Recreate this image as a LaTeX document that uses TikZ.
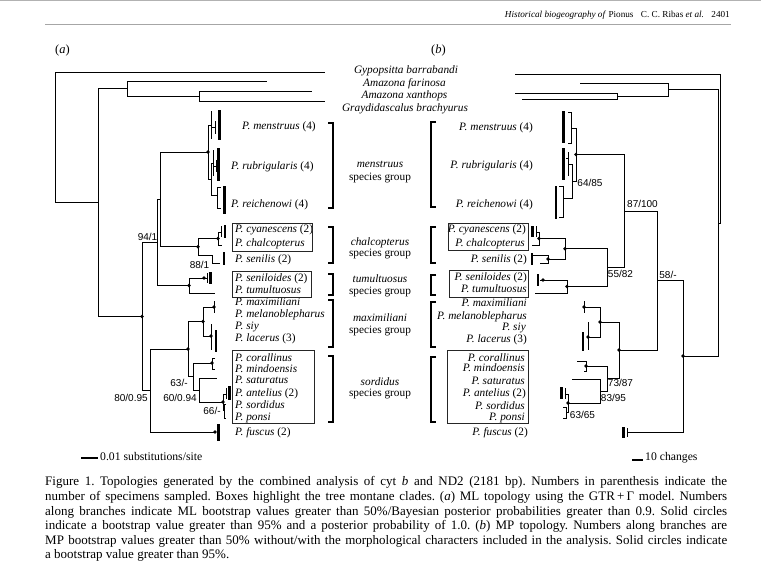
\documentclass[tikz,border=0pt]{standalone}
\usepackage{fontspec}
\setmainfont{Liberation Serif}
\newfontfamily\bootfont{Liberation Sans}
\frenchspacing

\begin{document}
\begin{tikzpicture}[yscale=-1, x=1pt, y=1pt,
    branch/.style={line width=0.85pt},
    thickbar/.style={line width=2.3pt},
    bracket/.style={line width=1.9pt},
    clade/.style={draw=black!85, line width=0.8pt},
    taxon/.style={inner sep=0pt, text height=7.5pt, text depth=0.5pt, font=\fontsize{11.3}{12}\selectfont},
    boot/.style={inner sep=0pt, font=\bootfont\fontsize{10}{10}\selectfont},
    scalebar/.style={line width=2pt},
  ]
    \useasboundingbox (0,0) rectangle (761,566);
    \fill [white] (0,0) rectangle (761,566);

    \draw [gray!60, line width=0.8pt] (0,0.5) -- (761,0.5);
    \draw [gray!70, line width=0.9pt] (45,24) -- (731,24);
    \node [anchor=base east, inner sep=0pt, font=\fontsize{9.2}{9}\selectfont] (head) at (730,17) {\textit{Historical biogeography of} Pionus\hspace{0.8em}C. C. Ribas \textit{et al.}\hspace{0.8em}2401};

    \node [font=\fontsize{12.5}{13}\selectfont] (panel-a) at (62.5,50) {(\textit{a})};
    \node [font=\fontsize{12.5}{13}\selectfont] (panel-b) at (438.5,50) {(\textit{b})};

    \node [taxon] (l-gyp) at (406,70) {\textit{Gypopsitta barrabandi}};
    \node [taxon] (l-far) at (404.5,82.5) {\textit{Amazona farinosa}};
    \node [taxon] (l-xan) at (404.5,95) {\textit{Amazona xanthops}};
    \node [taxon] (l-gra) at (405,107.5) {\textit{Graydidascalus brachyurus}};

    % (a) ML tree
    \coordinate (a-root) at (55,137.25);
    \coordinate (a-gyp) at (325,72);
    \coordinate (a-base) at (98,202.5);
    \coordinate (a-amz) at (127,88.5);
    \coordinate (a-far) at (267,81);
    \coordinate (a-xg) at (199,96);
    \coordinate (a-xan) at (312,91);
    \coordinate (a-gra) at (325,101);
    \coordinate (a-pio) at (142,316.5);
    \coordinate (a-n94) at (157,242.4);
    \coordinate (a-mc) at (160,199.4);
    \coordinate (a-men) at (208,152);
    \coordinate (a-men-t) at (211,125);
    \coordinate (a-rr) at (211,179);
    \coordinate (a-rub-t) at (213,163);
    \coordinate (a-rei-t) at (217,195);
    \coordinate (a-chal) at (198,246.75);
    \coordinate (a-cc) at (218,238.5);
    \coordinate (a-cya-t) at (221,232);
    \coordinate (a-chl-t) at (222,245);
    \coordinate (a-sen-t) at (212,255);
    \coordinate (a-tum) at (189,285.5);
    \coordinate (a-snl) at (204,278);
    \coordinate (a-tmt) at (215,293);
    \coordinate (a-n80) at (150,390.5);
    \coordinate (a-fus) at (215,432);
    \coordinate (a-ms) at (188,349);
    \coordinate (a-max) at (203,321.5);
    \coordinate (a-mm) at (214,307);
    \coordinate (a-sl) at (211,336);
    \coordinate (a-sor) at (193,376.5);
    \coordinate (a-cm) at (212,363);
    \coordinate (a-n60) at (199,390);
    \coordinate (a-sat) at (217,378);
    \coordinate (a-asp) at (223,402);
    \coordinate (a-ant-t) at (226,394);
    \coordinate (a-sp-t) at (224,410);

    \draw [branch] (a-root) |- (a-gyp) (a-root) |- (a-base)
        (a-base) |- (a-amz) (a-base) |- (a-pio)
        (a-amz) |- (a-far) (a-amz) |- (a-xg)
        (a-xg) |- (a-xan) (a-xg) |- (a-gra)
        (a-pio) |- (a-n94) (a-pio) |- (a-n80)
        (a-n94) |- (a-mc) (a-n94) |- (a-tum)
        (a-mc) |- (a-men) (a-mc) |- (a-chal)
        (a-men) |- (a-men-t) (a-men) |- (a-rr)
        (a-rr) |- (a-rub-t) (a-rr) |- (a-rei-t)
        (a-chal) |- (a-cc) (a-chal) |- (a-sen-t)
        (a-cc) |- (a-cya-t) (a-cc) |- (a-chl-t)
        (a-tum) |- (a-snl) (a-tum) |- (a-tmt)
        (a-n80) |- (a-ms) (a-n80) |- (a-fus)
        (a-ms) |- (a-max) (a-ms) |- (a-sor)
        (a-max) |- (a-mm) (a-max) |- (a-sl)
        (a-sor) |- (a-cm) (a-sor) |- (a-n60)
        (a-n60) |- (a-sat) (a-n60) |- (a-asp)
        (a-asp) |- (a-ant-t) (a-asp) |- (a-sp-t);

    \draw [branch] (211,111) -- (211,139) (211,127) -- (215,127) (215,121) -- (215,134);
    \draw [thickbar] (219.5,110) -- (219.5,140);
    \draw [branch] (213,150) -- (213,176) (213,166) -- (216,166) (216,160) -- (216,172);
    \draw [thickbar] (218.5,148) -- (218.5,181);
    \draw [branch] (221,187) -- (217,187) -- (217,208) -- (221,208);
    \draw [thickbar] (224.5,186) -- (224.5,214);
    \draw [branch] (221,226) -- (221,237);
    \draw [thickbar] (225,225) -- (225,238);
    \draw [branch] (a-sen-t) -- (212,263) -- (220,263);
    \draw [thickbar] (224,252) -- (224,265);
    \draw [branch] (a-snl) -- (207,278) (207,273) -- (207,283);
    \draw [thickbar] (210.5,272) -- (210.5,284);
    \draw [branch] (214,301) -- (214,313);
    \draw [branch] (211,324) -- (211,350);
    \draw [thickbar] (216,330) -- (216,352);
    \draw [branch] (215,358) -- (212,358) -- (212,369) -- (215,369);
    \draw [branch] (226,388) -- (226,399);
    \draw [thickbar] (229.5,386) -- (229.5,400);
    \draw [branch] (226,404) -- (224,404) -- (224,418) -- (226,418);
    \draw [thickbar] (218.5,424) -- (218.5,441);

    \fill (a-pio) circle (1.8) (a-men) circle (1.8) (a-chal) circle (1.8) (a-cc) circle (1.8)
        (a-tum) circle (1.8) (a-snl) circle (1.8) (a-ms) circle (1.8) (a-max) circle (1.8)
        (a-mm) circle (1.8) (a-sl) circle (1.8) (a-cm) circle (1.8) (a-asp) circle (1.8)
        (a-fus) circle (1.8);

    \node [boot] (a-s94) at (147.5,237) {94/1};
    \node [boot] (a-s88) at (199.5,265) {88/1};
    \node [boot] (a-s63) at (179,383) {63/-};
    \node [boot] (a-s80) at (131,398) {80/0.95};
    \node [boot] (a-s60) at (180,398) {60/0.94};
    \node [boot] (a-s66) at (212,411) {66/-};

    \node [taxon, anchor=west] (a-l-men) at (242,125.5) {\textit{P. menstruus} (4)};
    \node [taxon, anchor=west] (a-l-rub) at (231,165.5) {\textit{P. rubrigularis} (4)};
    \node [taxon, anchor=west] (a-l-rei) at (231,203.5) {\textit{P. reichenowi} (4)};
    \node [taxon, anchor=west] (a-l-cya) at (235,229) {\textit{P. cyanescens} (2)};
    \node [taxon, anchor=west] (a-l-chl) at (235,242.5) {\textit{P. chalcopterus}};
    \node [taxon, anchor=west] (a-l-sen) at (235,259) {\textit{P. senilis} (2)};
    \node [taxon, anchor=west] (a-l-snl) at (235,277.5) {\textit{P. seniloides} (2)};
    \node [taxon, anchor=west] (a-l-tmt) at (235,290) {\textit{P. tumultuosus}};
    \node [taxon, anchor=west] (a-l-max) at (235,302.3) {\textit{P. maximiliani}};
    \node [taxon, anchor=west] (a-l-mel) at (235,313.5) {\textit{P. melanoblepharus}};
    \node [taxon, anchor=west] (a-l-siy) at (235,325.7) {\textit{P. siy}};
    \node [taxon, anchor=west] (a-l-lac) at (235,337.5) {\textit{P. lacerus} (3)};
    \node [taxon, anchor=west] (a-l-cor) at (235,357.5) {\textit{P. corallinus}};
    \node [taxon, anchor=west] (a-l-min) at (235,368.5) {\textit{P. mindoensis}};
    \node [taxon, anchor=west] (a-l-sat) at (235,379.5) {\textit{P. saturatus}};
    \node [taxon, anchor=west] (a-l-ant) at (235,393.3) {\textit{P. antelius} (2)};
    \node [taxon, anchor=west] (a-l-sor) at (235,405) {\textit{P. sordidus}};
    \node [taxon, anchor=west] (a-l-pon) at (235,416.7) {\textit{P. ponsi}};
    \node [taxon, anchor=west] (a-l-fus) at (235,431.5) {\textit{P. fuscus} (2)};

    \draw [clade] (232,223) rectangle (312,251);
    \draw [clade] (232,271) rectangle (311,297);
    \draw [clade] (232,350) rectangle (314,423);

    \draw [bracket] (328,123) -- (333,123) -- (333,208) -- (328,208);
    \draw [bracket] (328,227) -- (333,227) -- (333,263) -- (328,263);
    \draw [bracket] (328,274) -- (333,274) -- (333,295) -- (328,295);
    \draw [bracket] (328,300) -- (333,300) -- (333,347) -- (328,347);
    \draw [bracket] (328,356) -- (333,356) -- (333,422) -- (328,422);

    \node [taxon] (g-men) at (380,164.3) {\textit{menstruus}};
    \node [taxon] (g-men-s) at (380,176.7) {species group};
    \node [taxon] (g-chl) at (380,241.7) {\textit{chalcopterus}};
    \node [taxon] (g-chl-s) at (380,252.7) {species group};
    \node [taxon] (g-tum) at (380,279.3) {\textit{tumultuosus}};
    \node [taxon] (g-tum-s) at (380,290.7) {species group};
    \node [taxon] (g-max) at (380,318.3) {\textit{maximiliani}};
    \node [taxon] (g-max-s) at (380,330) {species group};
    \node [taxon] (g-sor) at (380,381.7) {\textit{sordidus}};
    \node [taxon] (g-sor-s) at (380,393.3) {species group};

    % (b) MP tree
    \coordinate (b-root) at (720,148.5);
    \coordinate (b-gyp) at (515,74);
    \coordinate (b-y) at (718,223);
    \coordinate (b-amz) at (668,89.5);
    \coordinate (b-far) at (580,83);
    \coordinate (b-xg) at (617,96);
    \coordinate (b-xan) at (515,93);
    \coordinate (b-gra) at (522,99);
    \coordinate (b-z) at (683,356);
    \coordinate (b-fus) at (627,432);
    \coordinate (b-w) at (657,280.5);
    \coordinate (b-v) at (624,211);
    \coordinate (b-x) at (619,350);
    \coordinate (b-men) at (576,154.5);
    \coordinate (b-men-t) at (571,128);
    \coordinate (b-rr) at (572,181);
    \coordinate (b-rub-t) at (568,164);
    \coordinate (b-rei-t) at (563,198);
    \coordinate (b-u) at (607,267.5);
    \coordinate (b-chal) at (565,248.75);
    \coordinate (b-cc) at (539,238.5);
    \coordinate (b-cya-t) at (536,232);
    \coordinate (b-chl-t) at (532,245);
    \coordinate (b-sen) at (548,259);
    \coordinate (b-sen-t) at (532,255);
    \coordinate (b-sen-u) at (540,263);
    \coordinate (b-tum) at (567,286.5);
    \coordinate (b-snl) at (543,280);
    \coordinate (b-tmt) at (535,293);
    \coordinate (b-max) at (600,322);
    \coordinate (b-mm) at (584,307);
    \coordinate (b-sl) at (588,337);
    \coordinate (b-sor) at (607,378.5);
    \coordinate (b-cm) at (586,366);
    \coordinate (b-n83) at (600,391);
    \coordinate (b-sat) at (572,379);
    \coordinate (b-asp) at (568,403);
    \coordinate (b-ant-t) at (565,394);
    \coordinate (b-sp-t) at (566,412);

    \draw [branch] (b-root) |- (b-gyp) (b-root) |- (b-y)
        (b-y) |- (b-amz) (b-y) |- (b-z)
        (b-amz) |- (b-far) (b-amz) |- (b-xg)
        (b-xg) |- (b-xan) (b-xg) |- (b-gra)
        (b-z) |- (b-w) (b-z) |- (b-fus)
        (b-w) |- (b-v) (b-w) |- (b-x)
        (b-v) |- (b-men) (b-v) |- (b-u)
        (b-men) |- (b-men-t) (b-men) |- (b-rr)
        (b-rr) |- (b-rub-t) (b-rr) |- (b-rei-t)
        (b-u) |- (b-chal) (b-u) |- (b-tum)
        (b-chal) |- (b-cc) (b-chal) |- (b-sen)
        (b-cc) |- (b-cya-t) (b-cc) |- (b-chl-t)
        (b-sen) |- (b-sen-t) (b-sen) |- (b-sen-u)
        (b-tum) |- (b-snl) (b-tum) |- (b-tmt)
        (b-x) |- (b-max) (b-x) |- (b-sor)
        (b-max) |- (b-mm) (b-max) |- (b-sl)
        (b-sor) |- (b-cm) (b-sor) |- (b-n83)
        (b-n83) |- (b-sat) (b-n83) |- (b-asp)
        (b-asp) |- (b-ant-t) (b-asp) |- (b-sp-t);

    \draw [branch] (568,112) -- (571,112) -- (571,143) -- (568,143);
    \draw [thickbar] (563.5,111) -- (563.5,143);
    \draw [branch] (568,152) -- (568,176) (568,158) -- (566,158);
    \draw [thickbar] (563.5,148) -- (563.5,180);
    \draw [branch] (559,186) -- (563,186) -- (563,217) -- (559,217);
    \draw [thickbar] (556,186) -- (556,219);
    \draw [branch] (536,226) -- (536,237);
    \draw [thickbar] (532.5,226) -- (532.5,237);
    \draw [thickbar] (532,253) -- (532,265);
    \draw [branch] (b-snl) -- (540,280);
    \draw [thickbar] (538,274) -- (538,286);
    \draw [branch] (584,301) -- (584,313);
    \draw [branch] (588,322) -- (588,350);
    \draw [thickbar] (583,332) -- (583,351);
    \draw [branch] (577,361) -- (586,361) -- (586,371) -- (584,371);
    \draw [branch] (565,388) -- (565,399);
    \draw [thickbar] (561.5,387) -- (561.5,399);
    \draw [branch] (563,407) -- (566,407) -- (566,418) -- (563,418);
    \draw [branch] (627,428) -- (627,437);
    \draw [thickbar] (623.5,427) -- (623.5,438);

    \fill (b-z) circle (1.8) (b-men) circle (1.8) (b-chal) circle (1.8) (b-cc) circle (1.8)
        (b-sen) circle (1.8) (b-tum) circle (1.8) (b-snl) circle (1.8) (b-x) circle (1.8)
        (b-max) circle (1.8) (b-mm) circle (1.8) (b-sl) circle (1.8) (b-cm) circle (1.8)
        (b-asp) circle (1.8);

    \node [boot] (b-s64) at (590,183) {64/85};
    \node [boot] (b-s87) at (642.5,204) {87/100};
    \node [boot] (b-s55) at (620.5,274) {55/82};
    \node [boot] (b-s58) at (668,275) {58/-};
    \node [boot] (b-s73) at (620.5,383) {73/87};
    \node [boot] (b-s83) at (613.5,398) {83/95};
    \node [boot] (b-s63) at (582.5,415) {63/65};

    \node [taxon, anchor=east] (b-l-men) at (533,126.5) {\textit{P. menstruus} (4)};
    \node [taxon, anchor=east] (b-l-rub) at (533,165) {\textit{P. rubrigularis} (4)};
    \node [taxon, anchor=east] (b-l-rei) at (533,203.5) {\textit{P. reichenowi} (4)};
    \node [taxon, anchor=east] (b-l-cya) at (526,229.3) {\textit{P. cyanescens} (2)};
    \node [taxon, anchor=east] (b-l-chl) at (525,242.7) {\textit{P. chalcopterus}};
    \node [taxon, anchor=east] (b-l-sen) at (527,259.3) {\textit{P. senilis} (2)};
    \node [taxon, anchor=east] (b-l-snl) at (527,277.3) {\textit{P. seniloides} (2)};
    \node [taxon, anchor=east] (b-l-tmt) at (527,289.3) {\textit{P. tumultuosus}};
    \node [taxon, anchor=east] (b-l-max) at (527,303.3) {\textit{P. maximiliani}};
    \node [taxon, anchor=east] (b-l-mel) at (527,315.7) {\textit{P. melanoblepharus}};
    \node [taxon, anchor=east] (b-l-siy) at (526,327.3) {\textit{P. siy}};
    \node [taxon, anchor=east] (b-l-lac) at (527,339.3) {\textit{P. lacerus} (3)};
    \node [taxon, anchor=east] (b-l-cor) at (525,358.3) {\textit{P. corallinus}};
    \node [taxon, anchor=east] (b-l-min) at (525,368.3) {\textit{P. mindoensis}};
    \node [taxon, anchor=east] (b-l-sat) at (525,380.7) {\textit{P. saturatus}};
    \node [taxon, anchor=east] (b-l-ant) at (526,393.3) {\textit{P. antelius} (2)};
    \node [taxon, anchor=east] (b-l-sor) at (525,406) {\textit{P. sordidus}};
    \node [taxon, anchor=east] (b-l-pon) at (525,416.7) {\textit{P. ponsi}};
    \node [taxon, anchor=east] (b-l-fus) at (528,432.3) {\textit{P. fuscus} (2)};

    \draw [clade] (448,223) rectangle (528,250);
    \draw [clade] (449,270) rectangle (528,297);
    \draw [clade] (447,350) rectangle (528,423);

    \draw [bracket] (436,122) -- (431,122) -- (431,207) -- (436,207);
    \draw [bracket] (436,227) -- (431,227) -- (431,263) -- (436,263);
    \draw [bracket] (436,275) -- (431,275) -- (431,295) -- (436,295);
    \draw [bracket] (436,302) -- (431,302) -- (431,347) -- (436,347);
    \draw [bracket] (436,357) -- (431,357) -- (431,422) -- (436,422);

    \draw [scalebar] (81,458) -- (98,458);
    \node [anchor=west, inner sep=0pt, font=\fontsize{11.7}{12}\selectfont] (a-scale) at (100,457) {0.01 substitutions/site};
    \draw [scalebar] (632,460) -- (643,460);
    \node [anchor=west, inner sep=0pt, font=\fontsize{11.7}{12}\selectfont] (b-scale) at (645,458) {10 changes};

    \node [anchor=north west, inner sep=0pt, text width=682pt, align=justify, font=\fontsize{13}{14.6}\selectfont] (caption) at (45,476.6)
        {Figure 1. Topologies generated by the combined analysis of cyt \textit{b} and ND2 (2181 bp). Numbers in parenthesis indicate the\linebreak
        number of specimens sampled. Boxes highlight the tree montane clades. (\textit{a}) ML topology using the GTR\,+\,Γ model. Numbers\linebreak
        along branches indicate ML bootstrap values greater than 50\%/Bayesian posterior probabilities greater than 0.9. Solid circles\linebreak
        indicate a bootstrap value greater than 95\% and a posterior probability of 1.0. (\textit{b}) MP topology. Numbers along branches are\linebreak
        MP bootstrap values greater than 50\% without/with the morphological characters included in the analysis. Solid circles indicate\linebreak
        a bootstrap value greater than 95\%.};
\end{tikzpicture}
\end{document}
